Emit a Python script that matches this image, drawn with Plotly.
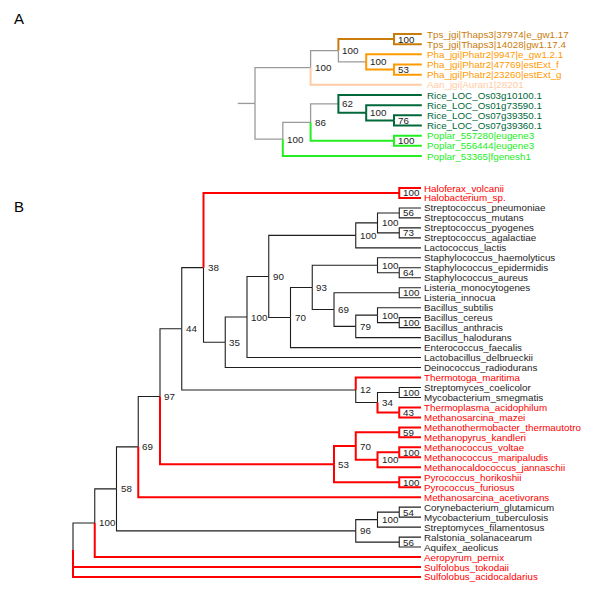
import plotly.graph_objects as go

# ---------------- DATA ----------------
# Panel A tree (label = bootstrap support, leaves = sequence names)
tree_a = ("", [
    ("100", [
        ("100", [
            ("100", ["Tps_jgi|Thaps3|37974|e_gw1.17", "Tps_jgi|Thaps3|14028|gw1.17.4"]),
            ("100", ["Pha_jgi|Phatr2|9947|e_gw1.2.1",
                     ("53", ["Pha_jgi|Phatr2|47769|estExt_f", "Pha_jgi|Phatr2|23260|estExt_g"])]),
        ]),
        "Aan_jgi|Auran1|28201",
    ]),
    ("100", [
        ("86", [
            ("62", ["Rice_LOC_Os03g10100.1",
                    ("100", ["Rice_LOC_Os01g73590.1",
                             ("76", ["Rice_LOC_Os07g39350.1", "Rice_LOC_Os07g39360.1"])])]),
            ("100", ["Poplar_557280|eugene3", "Poplar_556444|eugene3"]),
        ]),
        "Poplar_53365|fgenesh1",
    ]),
])

# Panel B tree
tree_b = ("", [
    ("100", [
        ("58", [
            ("69", [
                ("97", [
                    ("44", [
                        ("38", [
                            ("100", ["Haloferax_volcanii", "Halobacterium_sp."]),
                            ("35", [
                                ("100", [
                                    ("90", [
                                        ("100", [
                                            ("100", [("56", ["Streptococcus_pneumoniae", "Streptococcus_mutans"]),
                                                     ("73", ["Streptococcus_pyogenes", "Streptococcus_agalactiae"])]),
                                            "Lactococcus_lactis",
                                        ]),
                                        ("70", [
                                            ("93", [
                                                ("100", ["Staphylococcus_haemolyticus",
                                                         ("64", ["Staphylococcus_epidermidis", "Staphylococcus_aureus"])]),
                                                ("69", [
                                                    ("100", ["Listeria_monocytogenes", "Listeria_innocua"]),
                                                    ("79", [
                                                        ("100", ["Bacillus_subtilis",
                                                                 ("100", ["Bacillus_cereus", "Bacillus_anthracis"])]),
                                                        "Bacillus_halodurans",
                                                    ]),
                                                ]),
                                            ]),
                                            "Enterococcus_faecalis",
                                        ]),
                                    ]),
                                    "Lactobacillus_delbrueckii",
                                ]),
                                "Deinococcus_radiodurans",
                            ]),
                        ]),
                        ("12", [
                            "Thermotoga_maritima",
                            ("34", [("100", ["Streptomyces_coelicolor", "Mycobacterium_smegmatis"]),
                                    ("43", ["Thermoplasma_acidophilum", "Methanosarcina_mazei"])]),
                        ]),
                    ]),
                    ("53", [
                        ("70", [("59", ["Methanothermobacter_thermautotro", "Methanopyrus_kandleri"]),
                                ("100", [("100", ["Methanococcus_voltae", "Methanococcus_maripaludis"]),
                                         "Methanocaldococcus_jannaschii"])]),
                        ("100", ["Pyrococcus_horikoshii", "Pyrococcus_furiosus"]),
                    ]),
                ]),
                "Methanosarcina_acetivorans",
            ]),
            ("96", [
                ("100", [("54", ["Corynebacterium_glutamicum", "Mycobacterium_tuberculosis"]),
                         "Streptomyces_filamentosus"]),
                ("56", ["Ralstonia_solanacearum", "Aquifex_aeolicus"]),
            ]),
        ]),
        "Aeropyrum_pernix",
    ]),
    "Sulfolobus_tokodaii",
    "Sulfolobus_acidocaldarius",
])

red_leaves_b = [
    "Haloferax_volcanii", "Halobacterium_sp.", "Thermotoga_maritima",
    "Thermoplasma_acidophilum", "Methanosarcina_mazei", "Methanothermobacter_thermautotro",
    "Methanopyrus_kandleri", "Methanococcus_voltae", "Methanococcus_maripaludis",
    "Methanocaldococcus_jannaschii", "Pyrococcus_horikoshii", "Pyrococcus_furiosus",
    "Methanosarcina_acetivorans", "Aeropyrum_pernix", "Sulfolobus_tokodaii",
    "Sulfolobus_acidocaldarius",
]

groups_a = ["Tps", "Pha", "Aan", "Rice", "Poplar"]
gray_stem_groups_a = ["Pha", "Rice"]

# ---------------- STYLE ----------------
FONT = "Liberation Sans, Arial, sans-serif"
FS = 9.8
group_colors_a = {"Tps": "#C97C0A", "Pha": "#FF9A00", "Aan": "#FFCBA4",
                  "Rice": "#00683A", "Poplar": "#22EE22"}
GRAY = "#9A9A9A"
RED = "#FF0000"
BLACK = "#1E1E1E"
LABEL_COLOR = "#222222"


def build(node, leaves):
    if isinstance(node, str):
        n = {"name": node, "label": None, "h": 0, "y": len(leaves), "children": [], "leaves": [node]}
        leaves.append(node)
        return n
    label, kids = node
    ch = [build(k, leaves) for k in kids]
    lv = [l for c in ch for l in c["leaves"]]
    return {"name": None, "label": label, "h": 1 + max(c["h"] for c in ch),
            "y": (ch[0]["y"] + ch[-1]["y"]) / 2, "children": ch, "leaves": lv}


def walk(n):
    yield n
    for c in n["children"]:
        yield from walk(c)


# ---- panel B ----
leaves_b = []
root_b = build(tree_b, leaves_b)
HB = root_b["h"]


def color_b(n):
    return RED if all(l in red_leaves_b for l in n["leaves"]) else BLACK


# ---- panel A ----
leaves_a = []
root_a = build(tree_a, leaves_a)
HA = root_a["h"]


def group_of(leaf):
    return leaf.split("_")[0]


def color_a(n):
    gs = set(group_of(l) for l in n["leaves"])
    if len(gs) != 1:
        return GRAY
    g = gs.pop()
    full = [l for l in leaves_a if group_of(l) == g]
    if n["children"] and g in gray_stem_groups_a and sorted(full) == sorted(n["leaves"]):
        return GRAY
    return group_colors_a[g]


fig = go.Figure()
annotations = []


def add_tree(root, H, colfun, xa, ya, widths, leaf_shift, stub=None):
    segs = {}
    for n in walk(root):
        for c in n["children"]:
            col = colfun(c)
            xs, ys = segs.setdefault(col, ([], []))
            xs += [H - n["h"], H - n["h"], H - c["h"], None]
            ys += [n["y"], c["y"], c["y"], None]
    if stub is not None:
        xs, ys = segs.setdefault(GRAY, ([], []))
        xs += [-stub, 0, None]
        ys += [root["y"], root["y"], None]
    for col, (xs, ys) in segs.items():
        fig.add_trace(go.Scatter(x=xs, y=ys, mode="lines", xaxis=xa, yaxis=ya,
                                 line=dict(color=col, width=widths.get(col, 2)),
                                 hoverinfo="skip", showlegend=False))
    for n in walk(root):
        if not n["children"]:
            annotations.append(dict(x=H, y=n["y"], xref=xa, yref=ya, text=n["name"],
                                    showarrow=False, xanchor="left", yanchor="middle",
                                    xshift=leaf_shift, font=dict(family=FONT, size=FS, color=colfun(n))))
        elif n["label"]:
            annotations.append(dict(x=H - n["h"], y=n["y"], xref=xa, yref=ya, text=n["label"],
                                    showarrow=False, xanchor="left", yanchor="middle",
                                    xshift=2, yshift=0, font=dict(family=FONT, size=FS, color=LABEL_COLOR)))


add_tree(root_b, HB, color_b, "x", "y", {RED: 2, BLACK: 1.1}, 1)
add_tree(root_a, HA, color_a, "x2", "y2", {GRAY: 1.3}, 3, stub=0.62)

# pixel geometry (page pixels; the page body has an 8px margin)
OFF = 8
W, Hpx = 584, 587
bx0, bdx = 73.0 - OFF, 21.75
by0, bdy = 188.0 - OFF, 9.974
ax0, adx = 255.0 - OFF, 27.8
ay0, ady = 34.0 - OFF, 10.17

annotations.append(dict(x=(12 - OFF) / W, y=1 - (18 - OFF) / Hpx, xref="paper", yref="paper", text="A",
                        showarrow=False, xanchor="left", yanchor="middle",
                        font=dict(family=FONT, size=15, color="#000")))
annotations.append(dict(x=(12 - OFF) / W, y=1 - (207 - OFF) / Hpx, xref="paper", yref="paper", text="B",
                        showarrow=False, xanchor="left", yanchor="middle",
                        font=dict(family=FONT, size=15, color="#000")))

ax_common = dict(visible=False, showgrid=False, zeroline=False, domain=[0, 1])
fig.update_layout(
    width=W, height=Hpx, autosize=False,
    margin=dict(l=0, r=0, t=0, b=0, pad=0),
    paper_bgcolor="white", plot_bgcolor="white",
    xaxis=dict(range=[-bx0 / bdx, (W - bx0) / bdx], **ax_common),
    yaxis=dict(range=[(Hpx - by0) / bdy, -by0 / bdy], **ax_common),
    xaxis2=dict(range=[-ax0 / adx, (W - ax0) / adx], overlaying="x", **ax_common),
    yaxis2=dict(range=[(Hpx - ay0) / ady, -ay0 / ady], overlaying="y", **ax_common),
    annotations=annotations,
)

fig.write_html("out.html")
